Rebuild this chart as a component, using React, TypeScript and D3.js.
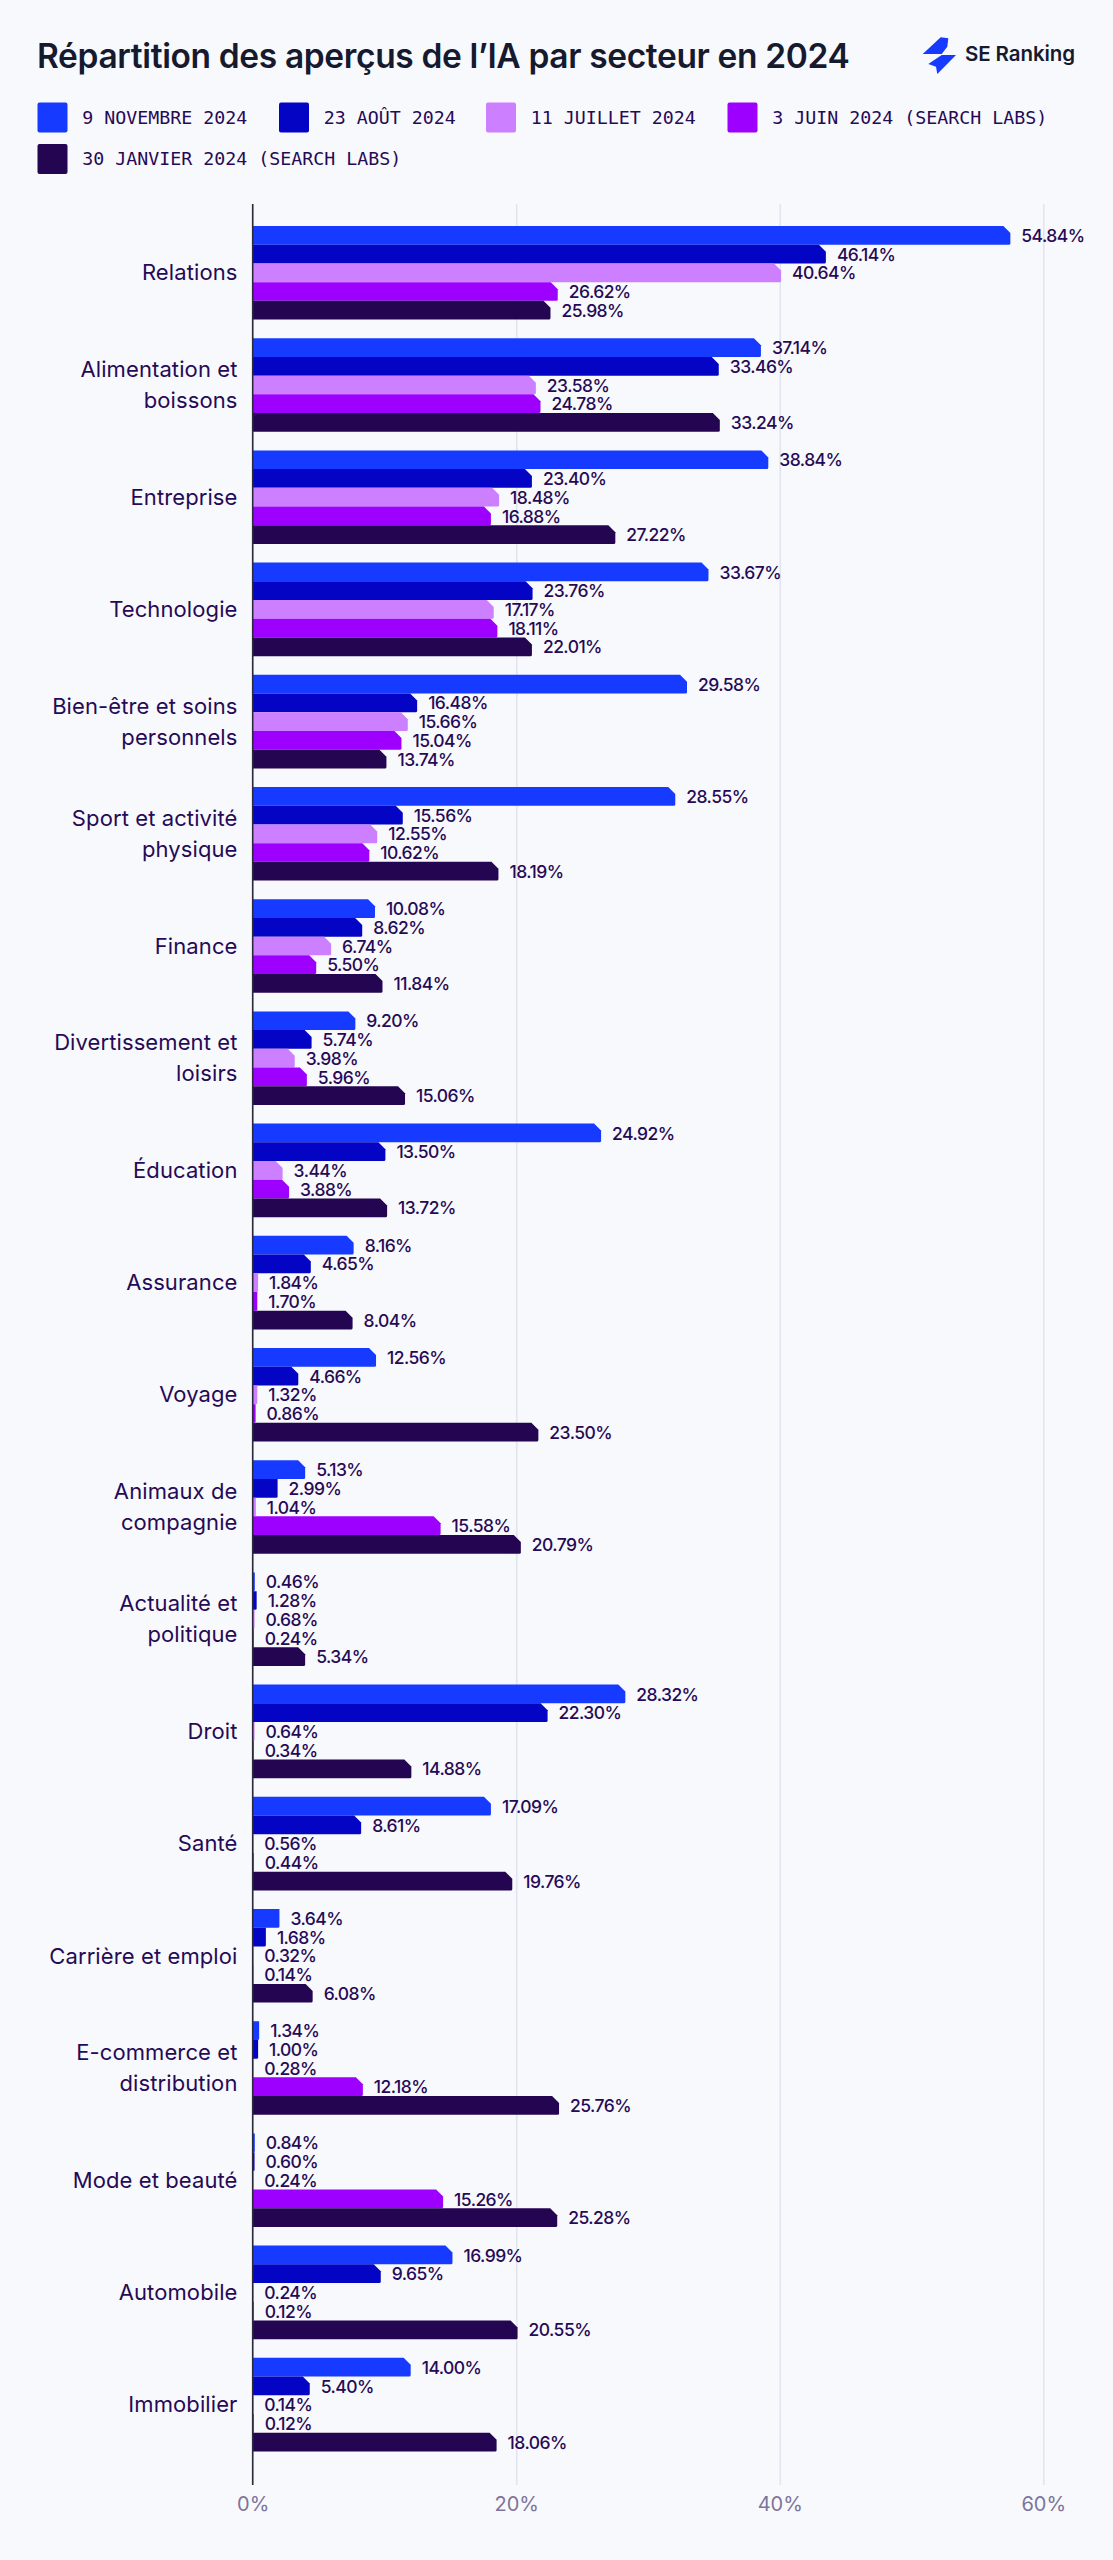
import React, { useRef, useEffect } from 'react';
import * as d3 from 'd3';

const categories = [
  'Relations', 'Alimentation et|boissons', 'Entreprise', 'Technologie', 'Bien-être et soins|personnels',
  'Sport et activité|physique', 'Finance', 'Divertissement et|loisirs', 'Éducation', 'Assurance',
  'Voyage', 'Animaux de|compagnie', 'Actualité et|politique', 'Droit', 'Santé',
  'Carrière et emploi', 'E-commerce et|distribution', 'Mode et beauté', 'Automobile', 'Immobilier',
];

const seriesNames = [
  '9 NOVEMBRE 2024', '23 AOÛT 2024', '11 JUILLET 2024', '3 JUIN 2024 (SEARCH LABS)', '30 JANVIER 2024 (SEARCH LABS)',
];
const seriesColors = ['#163aff', '#0404c4', '#cc80ff', '#9e00ff', '#240552'];

// bar lengths as drawn in the picture (they don't always agree with the printed labels)
const novBars = [57.5, 38.57, 39.13, 34.59, 32.96, 32.07, 9.28, 7.79, 26.44, 7.66, 9.36, 3.98, 0.16, 28.28, 18.08, 2.03, 0.49, 0.16, 15.16, 11.99];
const augBars = [43.5, 35.37, 21.19, 21.24, 12.48, 11.39, 8.31, 4.47, 10.07, 4.41, 3.46, 1.89, 0.3, 22.38, 8.23, 1.0, 0.41, 0.14, 9.72, 4.33];
const julBars = [40.1, 21.49, 18.7, 18.29, 11.77, 9.45, 5.95, 3.19, 2.27, 0.41, 0.35, 0.24, 0.14, 0.14, 0.05, 0.05, 0.05, 0.05, 0.05, 0.05];
const junBars = [23.15, 21.84, 18.08, 18.57, 11.29, 8.85, 4.82, 4.11, 2.76, 0.35, 0.22, 14.26, 0.08, 0.08, 0.08, 0.05, 8.36, 14.45, 0.08, 0.08];
const janBars = [22.6, 35.45, 27.52, 21.19, 10.15, 18.65, 9.85, 11.56, 10.2, 7.58, 21.68, 20.35, 3.98, 12.04, 19.7, 4.55, 23.25, 23.11, 20.1, 18.51];

// printed labels
const novLabels = [54.84, 37.14, 38.84, 33.67, 29.58, 28.55, 10.08, 9.2, 24.92, 8.16, 12.56, 5.13, 0.46, 28.32, 17.09, 3.64, 1.34, 0.84, 16.99, 14.0];
const augLabels = [46.14, 33.46, 23.4, 23.76, 16.48, 15.56, 8.62, 5.74, 13.5, 4.65, 4.66, 2.99, 1.28, 22.3, 8.61, 1.68, 1.0, 0.6, 9.65, 5.4];
const julLabels = [40.64, 23.58, 18.48, 17.17, 15.66, 12.55, 6.74, 3.98, 3.44, 1.84, 1.32, 1.04, 0.68, 0.64, 0.56, 0.32, 0.28, 0.24, 0.24, 0.14];
const junLabels = [26.62, 24.78, 16.88, 18.11, 15.04, 10.62, 5.5, 5.96, 3.88, 1.7, 0.86, 15.58, 0.24, 0.34, 0.44, 0.14, 12.18, 15.26, 0.12, 0.12];
const janLabels = [25.98, 33.24, 27.22, 22.01, 13.74, 18.19, 11.84, 15.06, 13.72, 8.04, 23.5, 20.79, 5.34, 14.88, 19.76, 6.08, 25.76, 25.28, 20.55, 18.06];

const xTicks = [0, 20, 40, 60];

const allBars = [novBars, augBars, julBars, junBars, janBars];
const allLabels = [novLabels, augLabels, julLabels, junLabels, janLabels];

const width = 1113;
const height = 2560;
const ink = '#260a55';
const sans = 'Inter, sans-serif';

const App: React.FC = () => {
  const svgRef = useRef<SVGSVGElement | null>(null);

  useEffect(() => {
    if (!svgRef.current) return;
    const svg = d3.select(svgRef.current);
    svg.selectAll('*').remove();

    svg.append('rect').attr('width', width).attr('height', height).attr('fill', '#f8f9fd');

    // Title and logo
    svg.append('text')
      .attr('x', 37).attr('y', 67.5)
      .attr('font-family', sans).attr('font-size', 33.5).attr('font-weight', 600)
      .attr('letter-spacing', -0.36)
      .attr('fill', '#161a2f')
      .text('Répartition des aperçus de l’IA par secteur en 2024');

    svg.append('path')
      .attr('d', 'M922.7 54L940.7 37.3L948.3 38.3L947.3 46.7L941.7 54Z M928.3 64L941.7 55L956 55L937.3 74L936 66.7Z')
      .attr('fill', '#163aff');
    svg.append('text')
      .attr('x', 965).attr('y', 61)
      .attr('font-family', sans).attr('font-size', 20.5).attr('font-weight', 600)
      .attr('letter-spacing', -0.1)
      .attr('fill', '#161a2f')
      .text('SE Ranking');

    // Legend
    const legendX = [37.5, 279, 486, 727.5, 37.5];
    const legendY = [102.5, 102.5, 102.5, 102.5, 144];
    const legend = svg.append('g').selectAll('g')
      .data(seriesNames)
      .enter().append('g')
      .attr('transform', (_, i) => `translate(${legendX[i]}, ${legendY[i]})`);
    legend.append('rect')
      .attr('width', 30).attr('height', 30).attr('rx', 2)
      .attr('fill', (_, i) => seriesColors[i]);
    legend.append('text')
      .attr('x', 44.7).attr('y', 15).attr('dy', '0.35em')
      .attr('font-family', '"DejaVu Sans Mono", monospace').attr('font-size', 18.3)
      .attr('fill', ink)
      .text(d => d);

    // Scales
    const x = d3.scaleLinear().domain([0, 60]).range([252.7, 1043.3]);
    const y = d3.scaleBand<string>()
      .domain(categories)
      .range([226, 2451.4])
      .paddingInner(0.166);
    const yBar = d3.scaleBand<number>()
      .domain(d3.range(seriesNames.length))
      .range([0, y.bandwidth()]);

    const plotTop = 204;
    const plotBottom = 2485;

    // Grid lines and x axis labels
    const xAxis = d3.axisBottom(x)
      .tickValues(xTicks)
      .tickSize(plotBottom - plotTop)
      .tickPadding(12)
      .tickFormat(d => `${d}%`);
    const axisG = svg.append('g')
      .attr('transform', `translate(0, ${plotTop})`)
      .call(xAxis);
    axisG.select('.domain').remove();
    axisG.selectAll('line').attr('stroke', '#e1e5f0').attr('stroke-width', 1.6);
    axisG.selectAll('text')
      .attr('font-family', sans).attr('font-size', 20)
      .attr('fill', '#7d749b');

    // Bars with a cut top-right corner
    const barPath = (x0: number, x1: number, top: number, h: number) => {
      const w = x1 - x0;
      const cut = w >= 28 ? 7 : 0;
      const r = Math.min(1.5, w / 2);
      return `M${x0} ${top}H${x1 - cut}L${x1} ${top + cut}V${top + h - r}Q${x1} ${top + h} ${x1 - r} ${top + h}H${x0}Z`;
    };

    const groups = svg.append('g').selectAll('g')
      .data(categories)
      .enter().append('g')
      .attr('transform', d => `translate(0, ${y(d)})`);

    groups.each(function (_, ci) {
      const g = d3.select(this);
      allBars.forEach((bars, si) => {
        const top = yBar(si) as number;
        g.append('path')
          .attr('d', barPath(x(0), x(bars[ci]), top, yBar.bandwidth()))
          .attr('fill', seriesColors[si]);
        g.append('text')
          .attr('x', x(bars[ci]) + 11)
          .attr('y', top + yBar.bandwidth() / 2 + 0.5)
          .attr('dy', '0.35em')
          .attr('font-family', sans).attr('font-size', 17.5).attr('font-weight', 500)
          .attr('letter-spacing', -0.55)
          .attr('fill', ink)
          .text(`${allLabels[si][ci].toFixed(2)}%`);
      });
    });

    // Category labels
    groups.append('text')
      .attr('text-anchor', 'end')
      .attr('font-family', sans).attr('font-size', 22).attr('font-weight', 400)
      .attr('letter-spacing', 0.1)
      .attr('fill', ink)
      .each(function (d) {
        const lines = d.split('|');
        const mid = y.bandwidth() / 2;
        const lineHeight = 31;
        d3.select(this).selectAll('tspan')
          .data(lines)
          .enter().append('tspan')
          .attr('x', 237.5)
          .attr('y', (_, i) => mid + (i - (lines.length - 1) / 2) * lineHeight)
          .attr('dy', '0.35em')
          .text(l => l);
      });

    // Vertical axis line
    svg.append('line')
      .attr('x1', x(0)).attr('x2', x(0))
      .attr('y1', plotTop).attr('y2', plotBottom)
      .attr('stroke', '#2a2a3c').attr('stroke-width', 1.6);
  }, []);

  return (
    <svg
      ref={svgRef}
      width={width}
      height={height}
      style={{ position: 'absolute', top: 0, left: 0, display: 'block' }}
    />
  );
};

export default App;
